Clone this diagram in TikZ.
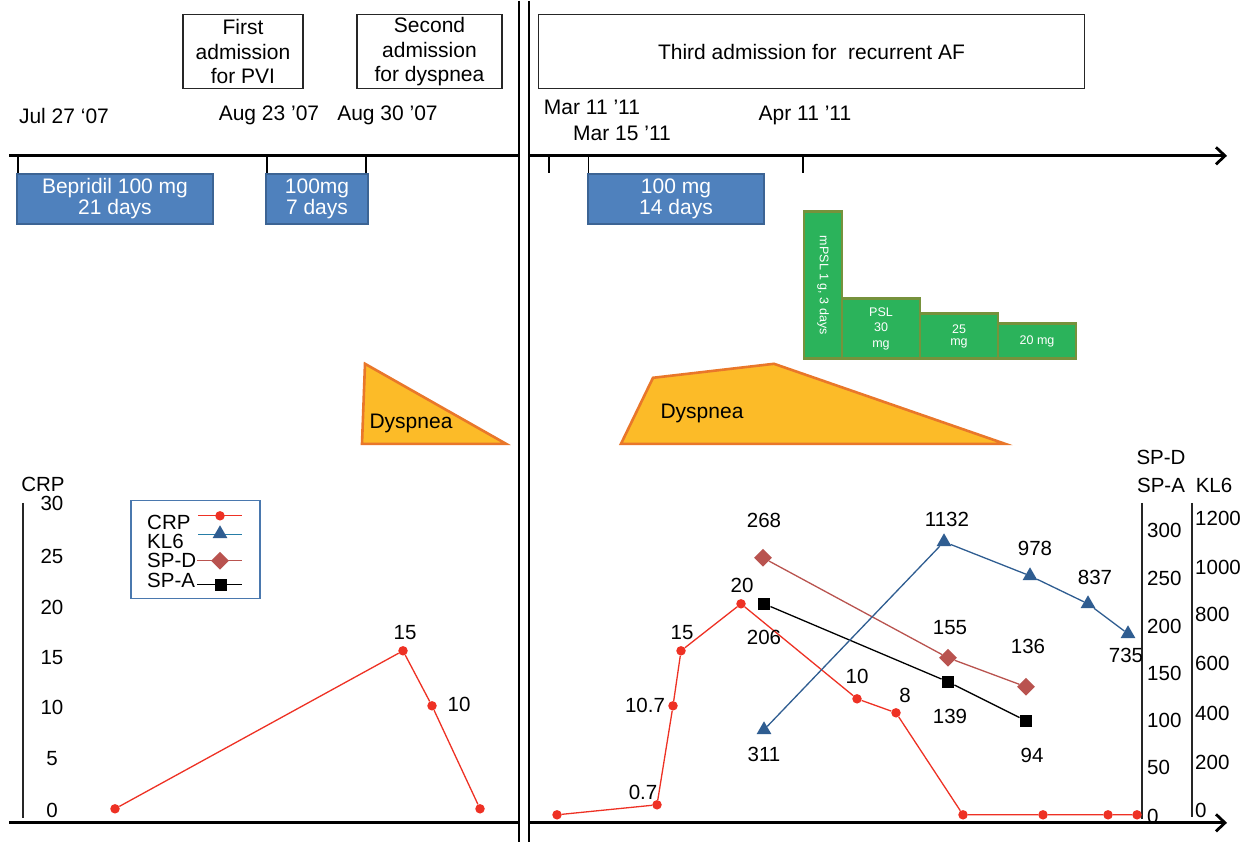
\documentclass[tikz,border=0pt]{standalone}
\usepackage{fontspec}
\setmainfont{Liberation Sans}
\usetikzlibrary{arrows.meta,shapes.geometric}

\definecolor{drugblue}{HTML}{4F81BD}
\definecolor{drugedge}{HTML}{3C6494}
\definecolor{steroid}{HTML}{2BB35B}
\definecolor{steroidedge}{HTML}{76923C}
\definecolor{dysfill}{HTML}{FCBB28}
\definecolor{dysedge}{HTML}{E9772A}
\definecolor{crpred}{HTML}{EE3124}
\definecolor{klblue}{HTML}{2F5D91}
\definecolor{spdred}{HTML}{B9534F}
\definecolor{legedge}{HTML}{4A78AE}

\tikzset{
  admbox/.style={draw=black!85, line width=1.2pt, align=center, inner sep=0pt, font=\fontsize{21}{24.5}\selectfont},
  drugbox/.style={draw=drugedge, line width=2pt, fill=drugblue, text=white, align=center, inner sep=0pt, font=\fontsize{21}{21.5}\selectfont},
  pslbox/.style={draw=steroidedge, line width=2.7pt, fill=steroid, text=white, align=center, inner sep=0pt, font=\fontsize{12.5}{15.5}\selectfont},
  dysp/.style={draw=dysedge, line width=2.6pt, fill=dysfill},
  txt/.style={inner sep=0pt, font=\fontsize{21}{24}\selectfont},
  num/.style={inner sep=0pt, font=\fontsize{20.5}{24}\selectfont},
  timeline/.style={line width=2.8pt},
  tick/.style={line width=1.3pt},
  chartaxis/.style={line width=1.4pt, black!85},
  crpdot/.style={circle, fill=crpred, inner sep=0pt, minimum size=9.5pt},
  kltri/.style={regular polygon, regular polygon sides=3, fill=klblue, inner sep=0pt, minimum size=17pt},
  spddia/.style={diamond, fill=spdred, inner sep=0pt, minimum size=18pt},
  spasq/.style={rectangle, fill=black, inner sep=0pt, minimum size=12.5pt},
  crpline/.style={crpred, line width=1.3pt},
  klline/.style={klblue, line width=1.3pt},
  spdline/.style={spdred, line width=1.3pt},
  spaline/.style={black, line width=1.3pt}
}

\begin{document}
\begin{tikzpicture}[x=1pt,y=-1pt]

	\fill[white] (0,0) rectangle (1242,841);

	% admissions
	\node[admbox, minimum width=120, minimum height=74] (adm1) at (243,51)   {First\\admission\\for PVI};
	\node[admbox, minimum width=145, minimum height=74] (adm2) at (429.5,51) {Second\\admission\\for dyspnea};
	\node[admbox, minimum width=546, minimum height=74] (adm3) at (811.5,51) {Third admission for \ recurrent AF};

	% dates
	\node[txt] (jul27) at (64,115)  {Jul 27 ‘07};
	\node[txt] (aug23) at (269,115) {Aug 23 ’07};
	\node[txt] (aug30) at (387.5,115) {Aug 30 ’07};
	\node[txt] (mar11) at (592,107) {Mar 11 ’11};
	\node[txt] (mar15) at (622,133) {Mar 15 ’11};
	\node[txt] (apr11) at (805,115) {Apr 11 ’11};

	% time axis, cut in two
	\coordinate (topL) at (9,155);
	\coordinate (topM) at (519,155);
	\coordinate (topN) at (529,155);
	\coordinate (topR) at (1227,155);
	\coordinate (botL) at (9,822);
	\coordinate (botM) at (519,822);
	\coordinate (botN) at (529,822);
	\coordinate (botR) at (1227,822);
	\draw[timeline] (topL) -- (topM);
	\draw[timeline, -{Straight Barb[length=9pt,width=17pt]}] (topN) -- (topR);
	\draw[timeline] (botL) -- (botM);
	\draw[timeline, -{Straight Barb[length=9pt,width=17pt]}] (botN) -- (botR);

	\coordinate (cutA1) at (519,0);
	\coordinate (cutA2) at (519,841);
	\coordinate (cutB1) at (529,0);
	\coordinate (cutB2) at (529,841);
	\draw[line width=1.6pt] (cutA1) -- (cutA2);
	\draw[line width=1.6pt] (cutB1) -- (cutB2);

	% bepridil
	\node[drugbox, minimum width=196, minimum height=50] (bep1) at (115,198) {Bepridil 100 mg\\21 days};
	\node[drugbox, minimum width=102, minimum height=50] (bep2) at (317,198) {100mg\\7 days};
	\node[drugbox, minimum width=176, minimum height=50] (bep3) at (676,198) {100 mg\\14 days};

	\coordinate (tk1) at (18,155);
	\coordinate (tk2) at (267,155);
	\coordinate (tk3) at (366,155);
	\coordinate (tk4) at (549,155);
	\coordinate (tk5) at (588.5,155);
	\coordinate (tk6) at (803,155);
	\draw[tick] (tk1) -- (tk1 |- bep1.north);
	\draw[tick] (tk2) -- (tk2 |- bep2.north);
	\draw[tick] (tk3) -- (tk3 |- bep2.north);
	\draw[tick] (tk4) -- (tk4 |- bep3.north);
	\draw[tick] (tk5) -- (tk5 |- bep3.north);
	\draw[tick] (tk6) -- (tk6 |- bep3.north);

	% steroids
	\node[pslbox, rotate=-90, minimum width=147, minimum height=38] (mpsl) at (823,284.5) {mPSL 1 g, 3 days};
	\node[pslbox, minimum width=78, minimum height=60] (psl30) at (881,328) {PSL\\30\\mg};
	\node[pslbox, minimum width=78, minimum height=45, font=\fontsize{12.5}{12}\selectfont] (psl25) at (959,335.5) {25\\mg};
	\node[pslbox, minimum width=78, minimum height=35] (psl20) at (1037,340.5) {20 mg};

	% dyspnea
	\draw[dysp] (365,363) -- (362,443) -- (506,443) -- cycle;
	\node[txt] (dysp1) at (411,423) {Dyspnea};
	\draw[dysp] (621,443) -- (653,377) -- (774,363) -- (1005,443) -- cycle;
	\node[txt] (dysp2) at (702,413) {Dyspnea};

	% CRP axis
	\coordinate (crpTop) at (23,502);
	\coordinate (crpBot) at (23,817);
	\draw[chartaxis] (crpTop) -- (crpBot);
	\node[num] (crpName) at (43,484) {CRP};
	\node[num] (crp30) at (52,503) {30};
	\node[num] (crp25) at (52,556) {25};
	\node[num] (crp20) at (52,607) {20};
	\node[num] (crp15) at (52,657) {15};
	\node[num] (crp10) at (52,707) {10};
	\node[num] (crp05) at (52,758) {5};
	\node[num] (crp00) at (52,810) {0};

	% SP-D / SP-A and KL6 axes
	\coordinate (spTop) at (1142,502);
	\coordinate (spBot) at (1142,818);
	\coordinate (klTop) at (1192,502);
	\coordinate (klBot) at (1192,816);
	\draw[chartaxis] (spTop) -- (spBot);
	\draw[chartaxis] (klTop) -- (klBot);
	\node[num] (spdName) at (1161,457) {SP-D};
	\node[num] (spaName) at (1161,485) {SP-A};
	\node[num] (klName) at (1214,485) {KL6};
	\node[num, anchor=west] (sp300) at (1147,530) {300};
	\node[num, anchor=west] (sp250) at (1147,578) {250};
	\node[num, anchor=west] (sp200) at (1147,626) {200};
	\node[num, anchor=west] (sp150) at (1147,673) {150};
	\node[num, anchor=west] (sp100) at (1147,720) {100};
	\node[num, anchor=west] (sp050) at (1147,767) {50};
	\node[num, anchor=west] (sp000) at (1147,816) {0};
	\node[num, anchor=west] (kl1200) at (1195,518) {1200};
	\node[num, anchor=west] (kl1000) at (1195,567) {1000};
	\node[num, anchor=west] (kl800) at (1195,614) {800};
	\node[num, anchor=west] (kl600) at (1195,663) {600};
	\node[num, anchor=west] (kl400) at (1195,713) {400};
	\node[num, anchor=west] (kl200) at (1195,762) {200};
	\node[num, anchor=west] (kl000) at (1195,810) {0};

	% legend
	\node[draw=legedge, line width=1.3pt, minimum width=129, minimum height=98] (legend) at (195.5,549) {};
	\node[num, anchor=west] (legCrp) at (147,522) {CRP};
	\node[num, anchor=west] (legKl) at (147,541) {KL6};
	\node[num, anchor=west] (legSpd) at (147,560) {SP-D};
	\node[num, anchor=west] (legSpa) at (147,580) {SP-A};
	\coordinate (lgA1) at (198,515);
	\coordinate (lgA2) at (242,515);
	\coordinate (lgB1) at (198,534);
	\coordinate (lgB2) at (242,534);
	\coordinate (lgC1) at (197,560);
	\coordinate (lgC2) at (242,560);
	\coordinate (lgD1) at (197,584);
	\coordinate (lgD2) at (242,584);
	\draw[crpline] (lgA1) -- (lgA2);
	\draw[klline, color=klblue!80!cyan] (lgB1) -- (lgB2);
	\draw[spdline] (lgC1) -- (lgC2);
	\draw[spaline] (lgD1) -- (lgD2);
	\node[crpdot] (lgA) at (220,515) {};
	\node[kltri] (lgB) at (220,533) {};
	\node[spddia] (lgC) at (220,560) {};
	\node[spasq] (lgD) at (221,584) {};

	% CRP, first period
	\node[crpdot] (cl1) at (115,808) {};
	\node[crpdot] (cl2) at (403,650) {};
	\node[crpdot] (cl3) at (432,705) {};
	\node[crpdot] (cl4) at (480,808) {};
	\draw[crpline] (cl1) -- (cl2) -- (cl3) -- (cl4);
	\node[num] (cl2lbl) at (405,632) {15};
	\node[num] (cl3lbl) at (459,704) {10};

	% CRP, third admission
	\node[crpdot] (cr1) at (557,814) {};
	\node[crpdot] (cr2) at (657,804) {};
	\node[crpdot] (cr3) at (673,705) {};
	\node[crpdot] (cr4) at (681,650) {};
	\node[crpdot] (cr5) at (741,603) {};
	\node[crpdot] (cr6) at (857,698) {};
	\node[crpdot] (cr7) at (896,712) {};
	\node[crpdot] (cr8) at (963,814) {};
	\node[crpdot] (cr9) at (1043,814) {};
	\node[crpdot] (cr10) at (1108,814) {};
	\node[crpdot] (cr11) at (1137,814) {};
	\draw[crpline] (cr1) -- (cr2) -- (cr3) -- (cr4) -- (cr5) -- (cr6) -- (cr7) -- (cr8) -- (cr9) -- (cr10) -- (cr11);
	\node[num] (cr2lbl) at (643,792) {0.7};
	\node[num] (cr3lbl) at (645,705) {10.7};
	\node[num] (cr4lbl) at (682,632) {15};
	\node[num] (cr5lbl) at (742,585) {20};
	\node[num] (cr6lbl) at (857,676) {10};
	\node[num] (cr7lbl) at (905,695) {8};

	% SP-D
	\node[spddia] (d1) at (763,557) {};
	\node[spddia] (d2) at (948,657) {};
	\node[spddia] (d3) at (1026,686) {};
	\draw[spdline] (d1) -- (d2) -- (d3);
	\node[num] (d1lbl) at (764,520) {268};
	\node[num] (d2lbl) at (950,627) {155};
	\node[num] (d3lbl) at (1028,646) {136};

	% SP-A
	\node[spasq] (a1) at (764,603) {};
	\node[spasq] (a2) at (948,681) {};
	\node[spasq] (a3) at (1026,720) {};
	\draw[spaline] (a1) -- (a2) -- (a3);
	\node[num] (a1lbl) at (764,637) {206};
	\node[num] (a2lbl) at (950,716) {139};
	\node[num] (a3lbl) at (1032,755) {94};

	% KL6
	\node[kltri] (k1) at (764,729) {};
	\node[kltri] (k2) at (944,541) {};
	\node[kltri] (k3) at (1030,575) {};
	\node[kltri] (k4) at (1088,603) {};
	\node[kltri] (k5) at (1128,633) {};
	\draw[klline] (k1) -- (k2) -- (k3) -- (k4) -- (k5);
	\node[num] (k1lbl) at (764,754) {311};
	\node[num] (k2lbl) at (947,519) {1132};
	\node[num] (k3lbl) at (1035,548) {978};
	\node[num] (k4lbl) at (1095,577) {837};
	\node[num] (k5lbl) at (1126,655) {735};

\end{tikzpicture}
\end{document}
